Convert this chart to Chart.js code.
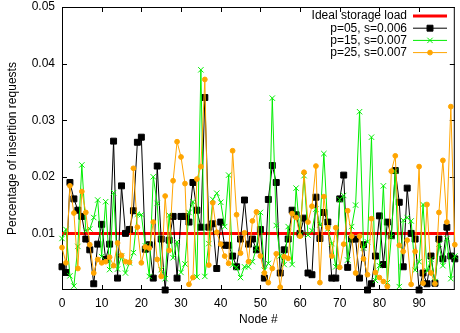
<!DOCTYPE html>
<html>
<head>
<meta charset="utf-8">
<script src="https://cdn.jsdelivr.net/npm/chart.js@4.4.1/dist/chart.umd.min.js"></script>
<style>
    html, body { margin: 0; padding: 0; background: #fff; }
</style>
</head>
<body>
<canvas id="loadChart" width="460" height="333"></canvas>
<script>
var nodes = [];
for (var n = 0; n < 100; n++) nodes.push(n);

var idealLoad = 0.01;

var loadP05 = [
    0.0041, 0.0031, 0.019, 0.0161, 0.0141, 0.013, 0.009, 0.0071, 0.0011, 0.0081,
    0.0116, 0.0054, 0.0081, 0.0263, 0.0021, 0.0184, 0.010, 0.0107, 0.014, 0.0261,
    0.027, 0.0072, 0.008, 0.0021, 0.0219, 0.009, 0.0, 0.0088, 0.013, 0.0021,
    0.013, 0.013, 0.012, 0.019, 0.0141, 0.0111, 0.034, 0.0111, 0.0117, 0.0038,
    0.012, 0.0079, 0.0079, 0.006, 0.0041, 0.009, 0.0159, 0.0081, 0.009, 0.0071,
    0.0107, 0.0021, 0.016, 0.022, 0.019, 0.003, 0.0071, 0.009, 0.0141, 0.0133,
    0.010, 0.0127, 0.003, 0.0027, 0.0164, 0.0091, 0.0137, 0.012, 0.0021, 0.0021,
    0.0161, 0.0203, 0.004, 0.009, 0.009, 0.0021, 0.008, 0.0, 0.0011, 0.006,
    0.0131, 0.0045, 0.012, 0.0096, 0.0211, 0.0155, 0.0041, 0.018, 0.010, 0.009,
    0.0, 0.003, 0.0011, 0.006, 0.0012, 0.009, 0.0055, 0.0111, 0.006, 0.0055
];

var loadP15 = [
    0.0091, 0.0107, 0.0025, 0.0007, 0.0077, 0.0221, 0.0105, 0.0108, 0.0128, 0.0159,
    0.0059, 0.0156, 0.0036, 0.0172, 0.0037, 0.006, 0.003, 0.0048, 0.0066, 0.0134,
    0.0133, 0.0078, 0.0024, 0.02, 0.0153, 0.0036, 0.002, 0.0132, 0.0057, 0.0085,
    0.0031, 0.0046, 0.0137, 0.0156, 0.0023, 0.0389, 0.0024, 0.0082, 0.016, 0.0171,
    0.0155, 0.0112, 0.0203, 0.0044, 0.004, 0.0022, 0.0041, 0.0041, 0.005, 0.0074,
    0.0137, 0.0035, 0.0047, 0.0339, 0.0114, 0.006, 0.0045, 0.0112, 0.0045, 0.018,
    0.0097, 0.0202, 0.0097, 0.0105, 0.0143, 0.0115, 0.0241, 0.0108, 0.0082, 0.0041,
    0.016, 0.0167, 0.0053, 0.0112, 0.015, 0.0315, 0.0074, 0.0085, 0.027, 0.0017,
    0.0043, 0.0184, 0.0013, 0.0094, 0.021, 0.0006, 0.0123, 0.0128, 0.0122, 0.0035,
    0.005, 0.0151, 0.0034, 0.0054, 0.0015, 0.0081, 0.0043, 0.0091, 0.002, 0.006
];

var loadP25 = [
    0.0075, 0.0048, 0.0184, 0.0136, 0.0038, 0.0174, 0.0137, 0.008, 0.003, 0.0054,
    0.0048, 0.005, 0.0058, 0.0043, 0.0083, 0.0061, 0.005, 0.0049, 0.0215, 0.0111,
    0.0048, 0.0076, 0.0074, 0.012, 0.0054, 0.0024, 0.0166, 0.007, 0.0193, 0.0262,
    0.0235, 0.0188, 0.001, 0.0022, 0.0196, 0.0218, 0.0372, 0.0044, 0.0154, 0.0102,
    0.0081, 0.006, 0.0047, 0.0246, 0.0133, 0.0065, 0.0101, 0.005, 0.0122, 0.0138,
    0.006, 0.003, 0.0013, 0.0038, 0.0064, 0.0005, 0.0059, 0.0056, 0.0135, 0.0128,
    0.0095, 0.0208, 0.012, 0.0148, 0.0219, 0.0013, 0.0165, 0.011, 0.006, 0.011,
    0.004, 0.0081, 0.014, 0.0095, 0.003, 0.0095, 0.0055, 0.0027, 0.0126, 0.0031,
    0.0022, 0.0015, 0.0006, 0.021, 0.0237, 0.0079, 0.0068, 0.0088, 0.001, 0.0068,
    0.0218, 0.0012, 0.0151, 0.003, 0.0011, 0.0137, 0.0229, 0.012, 0.0324, 0.008
];

var xTickValues = [0, 10, 20, 30, 40, 50, 60, 70, 80, 90];
var yTickValues = [0.01, 0.02, 0.03, 0.04, 0.05];

var FONT = '"Liberation Sans", Arial, sans-serif';

function line(ctx, x0, y0, x1, y1) {
    ctx.beginPath();
    ctx.moveTo(x0, y0);
    ctx.lineTo(x1, y1);
    ctx.stroke();
}

// gnuplot style box with inward ticks on all four sides
var framePlugin = {
    id: 'frame',
    beforeDatasetsDraw: function(chart) {
        var ctx = chart.ctx, a = chart.chartArea;
        var xs = chart.scales.x, ys = chart.scales.y;
        ctx.save();
        ctx.strokeStyle = '#000';
        ctx.lineWidth = 1;
        ctx.strokeRect(a.left + 0.5, a.top + 0.5, a.right - a.left - 1, a.bottom - a.top - 1);
        xTickValues.forEach(function(v) {
            var px = Math.round(xs.getPixelForValue(v)) + 0.5;
            line(ctx, px, a.bottom, px, a.bottom - 5);
            line(ctx, px, a.top, px, a.top + 5);
        });
        yTickValues.forEach(function(v) {
            var py = Math.round(ys.getPixelForValue(v)) + 0.5;
            line(ctx, a.left, py, a.left + 5, py);
            line(ctx, a.right, py, a.right - 5, py);
        });
        ctx.restore();
    }
};

// legend in the top right corner, text right aligned, sample on the right
var keyPlugin = {
    id: 'key',
    afterDraw: function(chart) {
        var ctx = chart.ctx;
        var textRight = 407, x0 = 413, x1 = 447, top = 16, step = 12.2;
        ctx.save();
        ctx.font = '12px ' + FONT;
        ctx.textAlign = 'right';
        ctx.textBaseline = 'middle';
        chart.data.datasets.forEach(function(ds, i) {
            var y = top + i * step;
            ctx.fillStyle = '#000';
            ctx.fillText(ds.label, textRight, y);
            ctx.strokeStyle = ds.borderColor;
            ctx.lineWidth = ds.borderWidth;
            line(ctx, x0, y, x1, y);
            if (ds.pointRadius > 0) {
                ctx.fillStyle = ds.pointBackgroundColor;
                ctx.strokeStyle = ds.pointBorderColor;
                ctx.lineWidth = 1;
                Chart.helpers.drawPoint(ctx, {
                    pointStyle: ds.pointStyle,
                    radius: ds.pointRadius,
                    borderWidth: 1,
                    rotation: 0
                }, (x0 + x1) / 2, y);
            }
        });
        ctx.restore();
    }
};

function series(label, values, color, style, radius, order) {
    return {
        label: label,
        data: values,
        borderColor: color,
        borderWidth: 1,
        pointStyle: style,
        pointRadius: radius,
        pointBackgroundColor: color,
        pointBorderColor: color,
        pointBorderWidth: 1,
        tension: 0,
        clip: 6,
        order: order
    };
}

var ctx = document.getElementById('loadChart').getContext('2d');
var chart = new Chart(ctx, {
    type: 'line',
    data: {
        labels: nodes,
        datasets: [
            {
                label: 'Ideal storage load',
                data: nodes.map(function() { return idealLoad; }),
                borderColor: '#ff0000',
                borderWidth: 3,
                pointRadius: 0,
                order: 4
            },
            series('p=05, s=0.006', loadP05, '#000000', 'rect', 4.2, 3),
            series('p=15, s=0.007', loadP15, '#00ee00', 'crossRot', 3.8, 2),
            series('p=25, s=0.007', loadP25, '#ffa500', 'circle', 2.4, 1)
        ]
    },
    options: {
        responsive: false,
        animation: false,
        devicePixelRatio: 1,
        layout: { padding: { top: 7, right: 0, left: 0, bottom: 0 } },
        plugins: {
            legend: { display: false },
            tooltip: { enabled: false }
        },
        scales: {
            x: {
                type: 'linear',
                min: 0,
                max: 99,
                grid: { display: false, drawTicks: false },
                border: { display: false },
                afterBuildTicks: function(scale) {
                    scale.ticks = xTickValues.map(function(v) { return { value: v }; });
                },
                afterFit: function(scale) {
                    scale.height = 43;
                    scale.paddingLeft = 0;
                    scale.paddingRight = 0;
                },
                ticks: {
                    color: '#000',
                    padding: 6,
                    maxRotation: 0,
                    autoSkip: false,
                    font: { family: FONT, size: 12 },
                    callback: function(v) { return String(v); }
                },
                title: {
                    display: true,
                    text: 'Node #',
                    color: '#000',
                    font: { family: FONT, size: 12 },
                    padding: { top: 0, bottom: 6 }
                }
            },
            y: {
                min: 0,
                max: 0.05,
                grid: { display: false, drawTicks: false },
                border: { display: false },
                afterBuildTicks: function(scale) {
                    scale.ticks = yTickValues.map(function(v) { return { value: v }; });
                },
                afterFit: function(scale) {
                    scale.width = 62;
                    scale.paddingTop = 0;
                    scale.paddingBottom = 0;
                },
                ticks: {
                    color: '#000',
                    padding: 7,
                    autoSkip: false,
                    font: { family: FONT, size: 12 },
                    callback: function(v) { return v.toFixed(2); }
                },
                title: {
                    display: true,
                    text: 'Percentage of insertion requests',
                    color: '#000',
                    font: { family: FONT, size: 12 },
                    padding: { top: 5, bottom: 0 }
                }
            }
        }
    },
    plugins: [framePlugin, keyPlugin]
});
</script>
</body>
</html>
